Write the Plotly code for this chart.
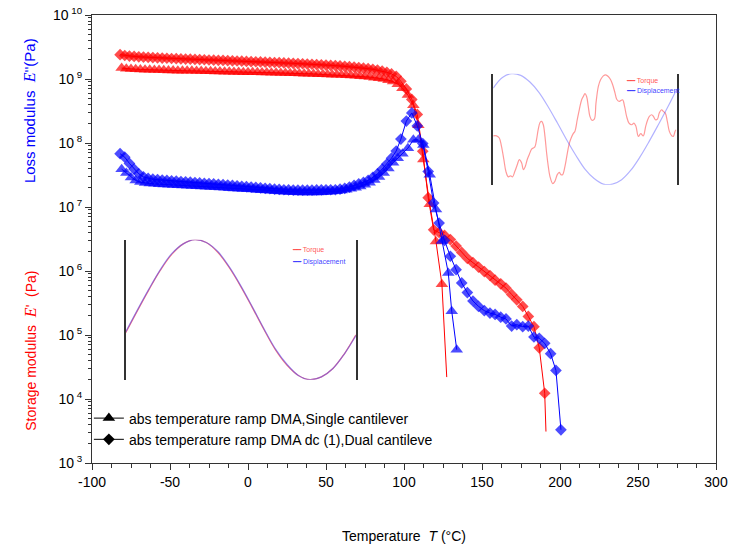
import plotly.graph_objects as go

# ---------------- main data ----------------
# Single cantilever (triangles)
T_single_store = [-81,-78,-75,-72,-69,-66,-63,-60,-57,-54,-51,-48,-45,-42,-39,-36,-33,-30,-27,-24,
                  -21,-18,-15,-12,-9,-6,-3,0,3,6,9,12,15,18,21,24,27,30,33,36,39,42,45,48,51,54,57,
                  60,63,66,69,72,75,78,81,84,87,90,93,96,99,102.5,106,109.2,112.4,116.5,120.5,124.3,127.4]
E_store_single = [1.48e9,1.45e9,1.43e9,1.42e9,1.41e9,1.40e9,1.39e9,1.38e9,1.38e9,1.37e9,1.36e9,1.36e9,
                  1.35e9,1.35e9,1.34e9,1.34e9,1.33e9,1.33e9,1.32e9,1.32e9,1.31e9,1.31e9,1.30e9,1.30e9,
                  1.29e9,1.29e9,1.28e9,1.28e9,1.27e9,1.27e9,1.26e9,1.26e9,1.25e9,1.25e9,1.24e9,1.24e9,
                  1.23e9,1.23e9,1.22e9,1.21e9,1.21e9,1.20e9,1.19e9,1.19e9,1.18e9,1.17e9,1.16e9,1.15e9,
                  1.14e9,1.13e9,1.12e9,1.10e9,1.09e9,1.07e9,1.05e9,1.03e9,1.00e9,9.6e8,9.1e8,8.3e8,
                  7.2e8,5.6e8,3.9e8,1.9e8,5.5e7,1.1e7,2.9e6,6.2e5,2.2e4]

T_single_loss = [-81,-78,-75,-72,-69,-66,-63,-60,-57,-54,-51,-48,-45,-42,-39,-36,-33,-30,-27,-24,
                 -21,-18,-15,-12,-9,-6,-3,0,3,6,9,12,15,18,21,24,27,30,33,36,39,42,45,48,51,54,57,
                 60,63,66,69,72,75,78,81,84,87,90,93,96,99,102.5,106,109.2,112.4,116.5,120.5,124.3,
                 128.4,130.6,133.8]
E_loss_single = [3.9e7,3.4e7,2.9e7,2.6e7,2.45e7,2.37e7,2.33e7,2.30e7,2.27e7,2.25e7,2.23e7,2.21e7,
                 2.19e7,2.17e7,2.15e7,2.13e7,2.11e7,2.09e7,2.07e7,2.05e7,2.03e7,2.01e7,1.99e7,1.97e7,
                 1.95e7,1.93e7,1.91e7,1.89e7,1.87e7,1.85e7,1.83e7,1.81e7,1.79e7,1.77e7,1.75e7,1.73e7,
                 1.71e7,1.70e7,1.69e7,1.68e7,1.68e7,1.68e7,1.69e7,1.70e7,1.72e7,1.74e7,1.77e7,1.81e7,
                 1.86e7,1.92e7,2.0e7,2.1e7,2.22e7,2.4e7,2.65e7,2.95e7,3.4e7,4.0e7,4.9e7,5.8e7,6.8e7,
                 8.3e7,1.12e8,1.12e8,9.3e7,3.2e7,9.1e6,2.95e6,9.3e5,2.35e5,5.9e4]

# Dual cantilever (diamonds)
T_dual_store = [-82,-79,-76,-73,-70,-67,-64,-61,-58,-55,-52,-49,-46,-43,-40,-37,-34,-31,-28,-25,-22,
                -19,-16,-13,-10,-7,-4,-1,2,5,8,11,14,17,20,23,26,29,32,35,38,41,44,47,50,53,56,59,62,
                65,68,71,74,77,80,83,86,89,92,95,98,101.5,105,108.5,112,115.5,119,122.5,126,129.7,
                133.4,137,140.6,144.2,147.8,151.5,155.1,158.4,162,165.4,169,172.3,176.1,179.7,183.3,
                186.7,190.2,191]
E_store_dual = [2.40e9,2.33e9,2.28e9,2.25e9,2.22e9,2.20e9,2.18e9,2.16e9,2.14e9,2.12e9,2.11e9,2.09e9,
                2.08e9,2.06e9,2.05e9,2.04e9,2.02e9,2.01e9,2.00e9,1.98e9,1.97e9,1.96e9,1.95e9,1.93e9,
                1.92e9,1.91e9,1.90e9,1.88e9,1.87e9,1.86e9,1.85e9,1.83e9,1.82e9,1.81e9,1.80e9,1.78e9,
                1.77e9,1.76e9,1.74e9,1.73e9,1.71e9,1.70e9,1.68e9,1.67e9,1.65e9,1.63e9,1.62e9,1.60e9,
                1.58e9,1.56e9,1.54e9,1.51e9,1.48e9,1.45e9,1.42e9,1.38e9,1.33e9,1.27e9,1.20e9,1.10e9,
                9.2e8,7.0e8,4.8e8,2.8e8,7.4e7,1.4e7,4.4e6,4.0e6,3.6e6,3.1e6,2.45e6,1.95e6,1.58e6,
                1.35e6,1.15e6,9.8e5,8.5e5,7.2e5,6.3e5,5.4e5,4.3e5,3.55e5,2.8e5,1.95e5,1.35e5,6.3e4,
                1.23e4,3.1e3]

T_dual_loss = [-82,-79,-76,-73,-70,-67,-64,-61,-58,-55,-52,-49,-46,-43,-40,-37,-34,-31,-28,-25,-22,
               -19,-16,-13,-10,-7,-4,-1,2,5,8,11,14,17,20,23,26,29,32,35,38,41,44,47,50,53,56,59,62,
               65,68,71,74,77,80,83,86,89,92,95,98,101.5,105,108.5,112,115.5,119,122.5,126,129.7,
               133.4,137,140.6,144.2,147.8,151.5,155.1,158.4,162,165.4,169,172.3,176.1,179.7,183.3,
               186.7,190.2,194,197.4,200.6]
E_loss_dual = [6.8e7,6.0e7,4.8e7,3.9e7,3.3e7,2.95e7,2.8e7,2.72e7,2.68e7,2.64e7,2.60e7,2.57e7,2.54e7,
               2.50e7,2.47e7,2.44e7,2.41e7,2.38e7,2.35e7,2.32e7,2.29e7,2.26e7,2.23e7,2.20e7,2.17e7,
               2.14e7,2.11e7,2.08e7,2.05e7,2.02e7,1.99e7,1.96e7,1.93e7,1.90e7,1.88e7,1.86e7,1.85e7,
               1.84e7,1.83e7,1.83e7,1.83e7,1.84e7,1.85e7,1.85e7,1.86e7,1.86e7,1.86e7,1.90e7,1.96e7,
               2.05e7,2.17e7,2.3e7,2.42e7,2.6e7,2.9e7,3.3e7,3.9e7,4.7e7,5.8e7,7.5e7,1.15e8,2.2e8,
               2.95e8,1.85e8,9.8e7,3.6e7,1.15e7,5.6e6,3.0e6,1.7e6,1.05e6,6.5e5,4.6e5,3.4e5,2.8e5,
               2.4e5,2.2e5,2.1e5,1.9e5,1.78e5,1.38e5,1.45e5,1.35e5,1.38e5,9.3e4,8.9e4,7.4e4,5.1e4,
               2.8e4,3.3e3]

legend_names = ["abs temperature ramp DMA,Single cantilever",
                "abs temperature ramp DMA dc (1),Dual cantileve"]
inset_legend_labels = ["Torque", "Displacement"]

# tick labels
x_tickvals = [-100, -50, 0, 50, 100, 150, 200, 250, 300]
x_ticktext = ["-100", "-50", "0", "50", "100", "150", "200", "250", "300"]
y_exponents = [3, 4, 5, 6, 7, 8, 9, 10]
y_ticktext = ["10<sup> %d</sup>" % e for e in y_exponents]

# ---------------- inset data (normalised signal vs. fraction of cycle window) ----------------
inset1_t = [0,0.05,0.10,0.15,0.20,0.25,0.30,0.35,0.40,0.45,0.50,0.55,0.60,0.65,0.70,0.75,0.80,
            0.85,0.90,0.95,1.0]
inset1_disp = [-0.32,-0.01,0.29,0.57,0.80,0.94,1.0,0.96,0.83,0.61,0.34,0.04,-0.27,-0.56,-0.78,
               -0.94,-1.0,-0.96,-0.84,-0.63,-0.37]
inset1_torque = [-0.33,-0.02,0.28,0.56,0.79,0.94,1.0,0.96,0.82,0.60,0.33,0.03,-0.28,-0.57,-0.79,
                 -0.94,-1.0,-0.96,-0.84,-0.63,-0.36]

inset2_t_disp = [0,0.05,0.10,0.15,0.20,0.25,0.30,0.35,0.40,0.45,0.50,0.55,0.60,0.65,0.70,0.75,
                 0.80,0.85,0.90,0.95,1.0]
inset2_disp = [0.74,0.93,1.0,0.97,0.85,0.66,0.40,0.11,-0.19,-0.47,-0.72,-0.89,-0.99,-0.99,-0.91,
               -0.74,-0.50,-0.22,0.08,0.39,0.72]
inset2_t_torque = [0,0.018,0.033,0.045,0.058,0.069,0.082,0.095,0.105,0.118,0.131,0.142,0.155,0.164,
                   0.175,0.185,0.196,0.209,0.218,0.227,0.236,0.245,0.255,0.264,0.273,0.282,0.291,
                   0.3,0.309,0.324,0.336,0.349,0.36,0.369,0.378,0.391,0.404,0.415,0.427,0.436,0.445,
                   0.458,0.469,0.482,0.491,0.5,0.509,0.518,0.527,0.538,0.551,0.56,0.573,0.585,0.6,
                   0.613,0.627,0.64,0.651,0.664,0.673,0.687,0.705,0.716,0.727,0.74,0.755,0.767,0.778,
                   0.791,0.804,0.818,0.831,0.842,0.851,0.864,0.873,0.884,0.895,0.905,0.918,0.927,
                   0.938,0.949,0.96,0.973,0.982,0.991,0.996]
inset2_torque = [-0.12,-0.12,-0.16,-0.31,-0.55,-0.76,-0.86,-0.84,-0.86,-0.76,-0.64,-0.55,-0.61,-0.73,
                 -0.67,-0.55,-0.46,-0.36,-0.34,-0.32,-0.19,-0.01,0.12,0.14,0.08,-0.13,-0.43,-0.67,
                 -0.85,-0.98,-0.94,-0.82,-0.78,-0.82,-0.82,-0.67,-0.43,-0.25,-0.14,-0.08,-0.04,0.17,
                 0.35,0.53,0.59,0.64,0.59,0.41,0.23,0.16,0.18,0.47,0.77,0.89,0.96,0.98,0.95,0.89,
                 0.80,0.65,0.54,0.50,0.53,0.41,0.23,0.11,0.08,0.11,0.05,-0.13,-0.08,-0.12,0.05,0.17,
                 0.23,0.26,0.23,0.17,0.18,0.29,0.35,0.32,0.29,0.14,-0.04,-0.12,-0.13,-0.04,-0.01]

# ---------------- styling ----------------
RED = "#FF0000"
BLUE = "#0000FF"
FONT = "Arial, Liberation Sans, sans-serif"


def sizes(n, s, tail):
    return [s] * (n - 1) + [0 if tail else s]


fig = go.Figure()

series = [
    (T_single_store, E_store_single, RED, "triangle-up", 11, True),
    (T_dual_store, E_store_dual, RED, "diamond", 9, True),
    (T_single_loss, E_loss_single, BLUE, "triangle-up", 11, False),
    (T_dual_loss, E_loss_dual, BLUE, "diamond", 9, False),
]
for xs, ys, col, sym, sz, tail in series:
    fig.add_trace(go.Scatter(
        x=xs, y=ys, mode="lines+markers", showlegend=False,
        line=dict(color=col, width=1),
        marker=dict(symbol=sym, color=col, size=sizes(len(xs), sz, tail), line=dict(width=0)),
        xaxis="x", yaxis="y"))

# legend entries (black symbols)
for name, sym, sz in zip(legend_names, ["triangle-up", "diamond"], [11, 9]):
    fig.add_trace(go.Scatter(
        x=[None], y=[None], mode="lines+markers", name=name,
        line=dict(color="black", width=1),
        marker=dict(symbol=sym, color="black", size=sz)))

# inset 1 (lower left)
fig.add_trace(go.Scatter(x=inset1_t, y=inset1_torque, mode="lines", line_shape="spline",
                         showlegend=False, line=dict(color="rgba(255,0,0,0.5)", width=1.3),
                         xaxis="x2", yaxis="y2"))
fig.add_trace(go.Scatter(x=inset1_t, y=inset1_disp, mode="lines", line_shape="spline",
                         showlegend=False, line=dict(color="rgba(60,60,255,0.5)", width=1.3),
                         xaxis="x2", yaxis="y2"))

# inset 2 (upper right)
fig.add_trace(go.Scatter(x=inset2_t_torque, y=inset2_torque, mode="lines", line_shape="spline",
                         showlegend=False, line=dict(color="rgba(255,0,0,0.4)", width=1.2),
                         xaxis="x3", yaxis="y3"))
fig.add_trace(go.Scatter(x=inset2_t_disp, y=inset2_disp, mode="lines", line_shape="spline",
                         showlegend=False, line=dict(color="rgba(0,0,255,0.3)", width=1.2),
                         xaxis="x3", yaxis="y3"))

axis_common = dict(showgrid=False, zeroline=False, linecolor="#333333", linewidth=1,
                   mirror=True, showline=True, ticks="outside", tickcolor="#333333",
                   automargin=False, tickfont=dict(family=FONT, size=14, color="black"))

# minor tick positions on the log axis (2..9 x 10^k)
log_minor = [m * 10 ** k for k in range(3, 10) for m in range(2, 10)]

# inset legends drawn as small coloured text labels
inset_leg_colors = ["rgba(255,40,40,0.8)", "rgba(40,40,255,0.9)"]
inset_leg_pos = [(0.317, [0.4746, 0.4493]), (0.8526, [0.8518, 0.8310])]
inset_annots = []
for xpos, ys in inset_leg_pos:
    for lab, col, yv in zip(inset_legend_labels, inset_leg_colors, ys):
        inset_annots.append(dict(text="━━ " + lab, xref="paper", yref="paper", x=xpos, y=yv,
                                 xanchor="left", yanchor="middle", showarrow=False,
                                 font=dict(family=FONT, size=7, color=col)))

E_SPAN = "<i style='font-family:Liberation Serif;font-size:16px'>E</i>"

fig.update_layout(
    width=748, height=547,
    margin=dict(l=92, r=32, t=15, b=84),
    paper_bgcolor="white", plot_bgcolor="white",
    font=dict(family=FONT, color="black"),
    xaxis=dict(range=[-100, 300], tickmode="array", tickvals=x_tickvals, ticktext=x_ticktext,
               ticklen=6,
               minor=dict(dtick=12.5, tick0=0, ticks="outside", ticklen=4, tickcolor="#333333"),
               title=dict(text="Temperature  <i>T</i> (°C)", standoff=42,
                          font=dict(family=FONT, size=14)),
               **axis_common),
    yaxis=dict(type="log", range=[3, 10], tickmode="array",
               tickvals=[10 ** e for e in y_exponents], ticktext=y_ticktext, ticklen=6,
               minor=dict(tickmode="array", tickvals=log_minor, ticks="outside", ticklen=3,
                          tickcolor="#333333"),
               **axis_common),
    xaxis2=dict(domain=[0.054, 0.423], range=[0, 1], anchor="y2", showgrid=False,
                zeroline=False, showticklabels=False, showline=False, ticks=""),
    yaxis2=dict(domain=[0.186, 0.4985], range=[-1, 1], anchor="x2", showgrid=False,
                zeroline=False, showticklabels=False, showline=True, mirror=True,
                linecolor="#333333", linewidth=1.5, ticks=""),
    xaxis3=dict(domain=[0.643, 0.937], range=[0, 1], anchor="y3", showgrid=False,
                zeroline=False, showticklabels=False, showline=False, ticks=""),
    yaxis3=dict(domain=[0.6213, 0.869], range=[-1, 1], anchor="x3", showgrid=False,
                zeroline=False, showticklabels=False, showline=True, mirror=True,
                linecolor="#333333", linewidth=1.5, ticks=""),
    legend=dict(x=-0.005, y=0.135, xanchor="left", yanchor="top", bgcolor="rgba(0,0,0,0)",
                font=dict(family=FONT, size=14, color="black"), itemwidth=30,
                tracegroupgap=0),
    annotations=[
        dict(text="Loss modulus  " + E_SPAN + "''(Pa)",
             xref="paper", yref="paper", x=-0.099, y=0.786, textangle=-90, showarrow=False,
             font=dict(family=FONT, size=15, color=BLUE), xanchor="center", yanchor="middle"),
        dict(text="Storage modulus  " + E_SPAN + "'  (Pa)",
             xref="paper", yref="paper", x=-0.099, y=0.251, textangle=-90, showarrow=False,
             font=dict(family=FONT, size=14, color=RED), xanchor="center", yanchor="middle"),
    ] + inset_annots,
)

fig.write_html("out.html")
